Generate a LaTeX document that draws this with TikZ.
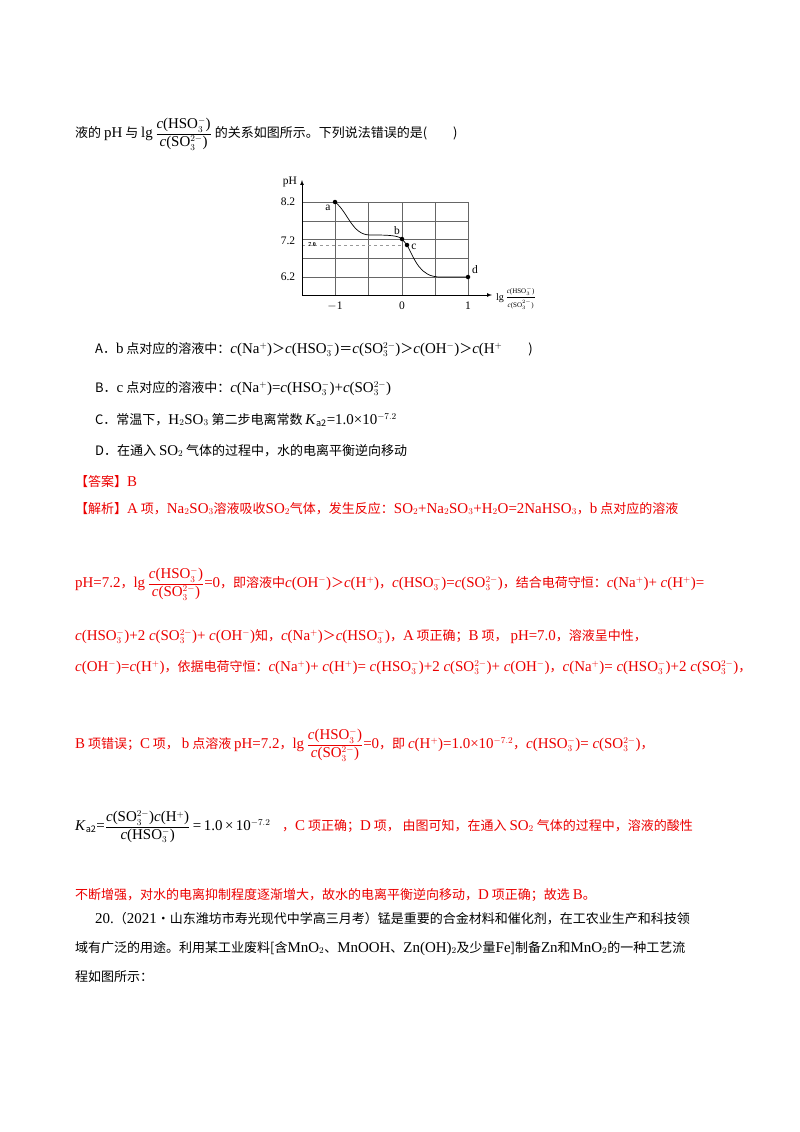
\documentclass[tikz,border=0pt]{standalone}
\usepackage{amsmath}
\usepackage{fontspec}
\setmainfont{Noto Sans CJK SC}
\newfontfamily\tm{Liberation Serif}[Scale=1.15]
\newfontfamily\tmg{Liberation Serif}
\definecolor{rd}{RGB}{235,0,0}
\newcommand{\fsz}{\fontsize{13pt}{15pt}\selectfont}
\newcommand{\hs}{{\tm\textit{c}(HSO$_3^-$)}}
\newcommand{\so}{{\tm\textit{c}(SO$_3^{2-}$)}}
\newcommand{\ff}[2]{\dfrac{\text{\tm #1}}{\text{\tm #2}}}
\newcommand{\lgfrac}{{\tm lg\,$\ff{\textit{c}(HSO$_3^-$)}{\textit{c}(SO$_3^{2-}$)}$}}
\begin{document}
\begin{tikzpicture}[x=1pt,y=-1pt,
  t/.style={anchor=base west,inner sep=0,font=\fsz},
  r/.style={t,text=rd},
  g/.style={anchor=center,inner sep=0,font=\tmg\fontsize{11.5pt}{12pt}\selectfont},
  grid/.style={draw=black!60,line width=0.5pt},
  pt/.style={circle,fill=black,inner sep=0,minimum size=4.5pt}]
\useasboundingbox (0,0) rectangle (800,1132);
\node[t] (l1) at (75,137) {液的 {\tm pH} 与 \lgfrac{} 的关系如图所示。下列说法错误的是(\qquad)};
% graph
\foreach \yy in {202,221,239,258,277} \draw[grid] (302,\yy) -- (468,\yy);
\foreach \xx in {335,368,402,435,468} \draw[grid] (\xx,202) -- (\xx,295);
\draw[black!40,dashed,line width=0.4pt] (302,245) -- (402,245);
\draw[-latex,line width=0.7pt] (302,295) -- (302,180);
\draw[-latex,line width=0.7pt] (302,295) -- (492,295);
\node[g] (ph) at (290,182) {pH};
\node[g] at (288,202) {8.2};
\node[g] at (288,241) {7.2};
\node[g,font=\tmg\bfseries\fontsize{6pt}{7pt}\selectfont] at (312,245) {7.0};
\node[g] at (288,277) {6.2};
\node[g] at (335,306) {$-$1};
\node[g] at (402,306) {0};
\node[g] at (468,306) {1};
\node[g,anchor=west,font=\tmg\fontsize{10pt}{11pt}\selectfont] at (496,298) {lg\,$\dfrac{\text{\tmg\scriptsize\textit{c}(HSO$_3^-$)}}{\text{\tmg\scriptsize\textit{c}(SO$_3^{2-}$)}}$};
\node[pt] (a) at (335,202) {};
\node[pt] (b) at (402,239) {};
\node[pt] (c) at (407,245) {};
\node[pt] (d) at (468,277) {};
\node[g] at (328,208) {a};
\node[g] at (397,231) {b};
\node[g] at (414,247) {c};
\node[g] at (475,270) {d};
\draw[line width=0.7pt] (a.center) .. controls (348,212) and (352,235) .. (370,235)
  .. controls (385,235) and (398,235) .. (b.center) -- (c.center)
  .. controls (415,260) and (420,277) .. (440,277) -- (d.center);
% options
\node[t] (A) at (95,353) {A．{\tm b} 点对应的溶液中：{\tm\textit{c}(Na$^+$)}＞\hs＝\so＞{\tm\textit{c}(OH$^-$)}＞{\tm\textit{c}(H$^+$}\qquad)};
\node[t] (B) at (95,392) {B．{\tm c} 点对应的溶液中：{\tm\textit{c}(Na$^+$)=}\hs{\tm +}\so};
\node[t] (C) at (95,424) {C．常温下，{\tm H$_2$SO$_3$} 第二步电离常数 {\tm\textit{K}$_{\mathrm{a2}}$=1.0×10$^{-7.2}$}};
\node[t] (D) at (95,455) {D．在通入 {\tm SO$_2$} 气体的过程中，水的电离平衡逆向移动};
\node[r] (ans) at (75,486) {【答案】{\tm B}};
\node[r] (j1) at (75,513) {【解析】{\tm A} 项，{\tm Na$_2$SO$_3$}溶液吸收{\tm SO$_2$}气体，发生反应：{\tm SO$_2$+Na$_2$SO$_3$+H$_2$O=2NaHSO$_3$}，{\tm b} 点对应的溶液};
\node[r] (j2) at (75,587) {{\tm pH=7.2}，\lgfrac{\tm =0}，即溶液中{\tm\textit{c}(OH$^-$)}＞{\tm\textit{c}(H$^+$)}，\hs{\tm =}\so，结合电荷守恒：{\tm\textit{c}(Na$^+$)+ \textit{c}(H$^+$)=}};
\node[r] (j3) at (75,640) {\hs{\tm +2 }\so{\tm + \textit{c}(OH$^-$)}知，{\tm\textit{c}(Na$^+$)}＞\hs，{\tm A} 项正确；{\tm B} 项， {\tm pH=7.0}，溶液呈中性，};
\node[r] (j4) at (75,671) {{\tm\textit{c}(OH$^-$)=\textit{c}(H$^+$)}，依据电荷守恒：{\tm\textit{c}(Na$^+$)+ \textit{c}(H$^+$)= }\hs{\tm +2 }\so{\tm + \textit{c}(OH$^-$)}，{\tm\textit{c}(Na$^+$)= }\hs{\tm +2 }\so，};
\node[r] (j5) at (75,748) {{\tm B} 项错误；{\tm C} 项， {\tm b} 点溶液 {\tm pH=7.2}，\lgfrac{\tm =0}，即 {\tm\textit{c}(H$^+$)=1.0×10$^{-7.2}$}，\hs{\tm = }\so，};
\node[t] (k) at (75,830) {{\tm\textit{K}$_{\mathrm{a2}}$=$\ff{\textit{c}(SO$_3^{2-}$)\textit{c}(H$^+$)}{\textit{c}(HSO$_3^-$)}$\,=\,1.0\,×\,10$^{-7.2}$}};
\node[r] (j6) at (282,830) {，{\tm C} 项正确；{\tm D} 项， 由图可知，在通入 {\tm SO$_2$} 气体的过程中，溶液的酸性};
\node[r] (j7) at (75,899) {不断增强，对水的电离抑制程度逐渐增大，故水的电离平衡逆向移动，{\tm D} 项正确；故选 {\tm B}。};
\node[t] (q1) at (95,923) {{\tm 20.}（{\tm 2021}·山东潍坊市寿光现代中学高三月考）锰是重要的合金材料和催化剂，在工农业生产和科技领};
\node[t] (q2) at (75,952) {域有广泛的用途。利用某工业废料[含{\tm MnO$_2$}、{\tm MnOOH}、{\tm Zn(OH)$_2$}及少量{\tm Fe}]制备{\tm Zn}和{\tm MnO$_2$}的一种工艺流};
\node[t] (q3) at (75,981) {程如图所示：};
\end{tikzpicture}
\end{document}
